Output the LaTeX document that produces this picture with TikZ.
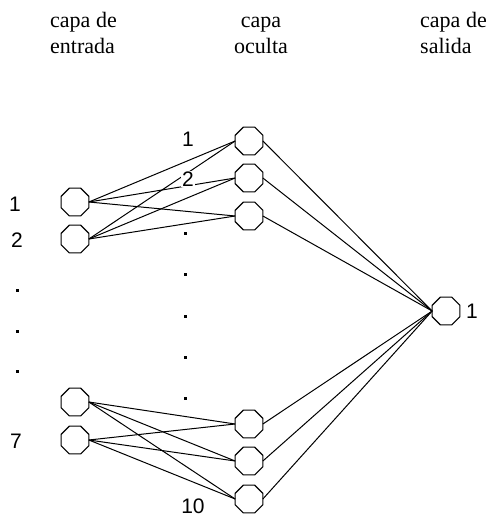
\documentclass[tikz,border=0pt]{standalone}
\usepackage{fontspec}
\setmainfont{Liberation Serif}
\setsansfont{Liberation Sans}
\usetikzlibrary{shapes.geometric}
\begin{document}
\begin{tikzpicture}[x=1pt,y=-1pt,
  neuron/.style={regular polygon, regular polygon sides=8, draw=black, line width=1.2pt,
    fill=white, minimum size=30pt, inner sep=0pt, outer sep=0pt},
  title/.style={font=\fontsize{22}{25}\selectfont, inner sep=0pt},
  num/.style={font=\sffamily\fontsize{21}{21}\selectfont, inner sep=1pt},
  dotmark/.style={fill=black, minimum size=3pt, inner sep=0pt, rectangle},
  link/.style={draw=black, line width=1pt}]
\useasboundingbox (0,0) rectangle (487,519);

% layer titles, one node per line, placed on their baselines
\node[title, anchor=base west] (t1a) at (50,28) {capa de};
\node[title, anchor=base west] (t1b) at (50,53) {entrada};
\node[title, anchor=base] (t2a) at (261,28) {capa};
\node[title, anchor=base] (t2b) at (261,53) {oculta};
\node[title, anchor=base west] (t3a) at (420,28) {capa de};
\node[title, anchor=base west] (t3b) at (420,53) {salida};

% input layer
\node[neuron] (i1) at (75,202) {};
\node[neuron] (i2) at (75,239) {};
\node[neuron] (i6) at (75,402) {};
\node[neuron] (i7) at (75,440) {};

% hidden layer
\node[neuron] (h1) at (249,141) {};
\node[neuron] (h2) at (249,178) {};
\node[neuron] (h3) at (249,216) {};
\node[neuron] (h8) at (249,424) {};
\node[neuron] (h9) at (249,461) {};
\node[neuron] (h10) at (249,499) {};

% output layer
\node[neuron] (o1) at (446,311) {};

% input to hidden connections
\foreach \i in {i1,i2}
  \foreach \h in {h1,h2,h3}
    \draw[link] (\i.east) -- (\h.west);
\foreach \i in {i6,i7}
  \foreach \h in {h8,h9,h10}
    \draw[link] (\i.east) -- (\h.west);

% hidden to output connections
\foreach \h in {h1,h2,h3,h8,h9,h10}
  \draw[link] (\h.east) -- (o1.west);

% input labels
\node[num] (li1) at (15,204) {1};
\node[num] (li2) at (17,240) {2};
\node[dotmark] (di1) at (17,290) {};
\node[dotmark] (di2) at (17,331) {};
\node[dotmark] (di3) at (17,371) {};
\node[num] (li7) at (16,441) {7};

% hidden labels
\node[num, fill=white] (lh1) at (188,139) {1};
\node[num, fill=white] (lh2) at (188,179) {2};
\node[dotmark] (dh1) at (185,233) {};
\node[dotmark] (dh2) at (185,274) {};
\node[dotmark] (dh3) at (185,316) {};
\node[dotmark] (dh4) at (185,357) {};
\node[dotmark] (dh5) at (185,398) {};
\node[num, fill=white] (lh10) at (193,506) {10};

% output label
\node[num] (lo1) at (472,311) {1};
\end{tikzpicture}
\end{document}
